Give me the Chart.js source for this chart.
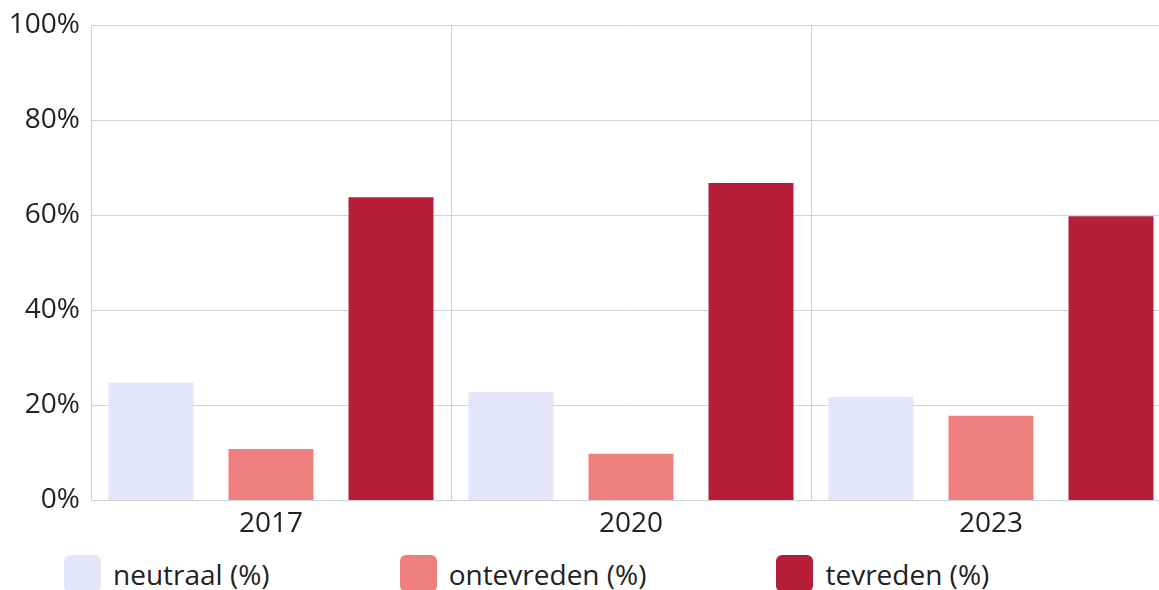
<!DOCTYPE html>
<html>
<head>
<meta charset="utf-8">
<script src="https://cdn.jsdelivr.net/npm/chart.js@4.4.0/dist/chart.umd.min.js"></script>
<style>
  body { margin: 0; background: #fff; overflow: hidden; font-family: "Open Sans", sans-serif; }
  #wrap { position: relative; width: 1159px; height: 590px; overflow: hidden; }
  #box { position: absolute; left: 0; top: 0; width: 1176px; height: 548px; }
  #legend { position: absolute; left: 64px; top: 555px; display: flex; gap: 130px; white-space: nowrap; }
  .item { display: flex; align-items: center; height: 37px; }
  .swatch { width: 37px; height: 37px; border-radius: 6px; margin-right: 12px; }
  .label { font-size: 28px; color: #222; }
</style>
</head>
<body>
<div id="wrap">
  <div id="box"><canvas id="myChart"></canvas></div>
  <div id="legend"></div>
</div>
<script>
const years = ['2017', '2020', '2023'];
const neutraal = [25, 23, 22];
const ontevreden = [11, 10, 18];
const tevreden = [64, 67, 60];
const seriesNames = ['neutraal (%)', 'ontevreden (%)', 'tevreden (%)'];
const colors = ['#e4e5f8', '#f08080', '#b71e3a'];
const yTicks = [0, 20, 40, 60, 80, 100];

const gridColor = '#ccd2db';
const font = { family: '"Open Sans", sans-serif', size: 28 };

function createMyChart() {
  const ctx = document.getElementById('myChart');
  const values = [neutraal, ontevreden, tevreden];

  new Chart(ctx, {
    type: 'bar',
    data: {
      labels: years,
      datasets: values.map((v, i) => ({
        label: seriesNames[i],
        data: v,
        backgroundColor: colors[i],
        borderColor: 'rgba(255,255,255,0.25)',
        borderWidth: 1,
        categoryPercentage: 1.0,
        barPercentage: 0.725
      }))
    },
    options: {
      responsive: true,
      maintainAspectRatio: false,
      animation: false,
      layout: { padding: { top: 25, right: 5, left: 0, bottom: 0 } },
      scales: {
        x: {
          grid: { color: gridColor, drawTicks: false, offset: true },
          border: { color: gridColor },
          ticks: { color: '#222', font: font, padding: 7 }
        },
        y: {
          min: 0,
          max: 100,
          afterFit: s => { s.width = 91; s.paddingTop = 0; },
          afterBuildTicks: s => { s.ticks = yTicks.map(v => ({ value: v })); },
          grid: { color: gridColor, drawTicks: false },
          border: { color: gridColor },
          ticks: { color: '#222', font: font, padding: 11, callback: v => v + '%' }
        }
      },
      plugins: {
        legend: { display: false },
        tooltip: { enabled: false }
      }
    }
  });

  const legend = document.getElementById('legend');
  seriesNames.forEach((name, i) => {
    const item = document.createElement('div');
    item.className = 'item';
    item.innerHTML = '<span class="swatch" style="background:' + colors[i] + '"></span><span class="label">' + name + '</span>';
    legend.appendChild(item);
  });
}

createMyChart();
</script>
</body>
</html>
